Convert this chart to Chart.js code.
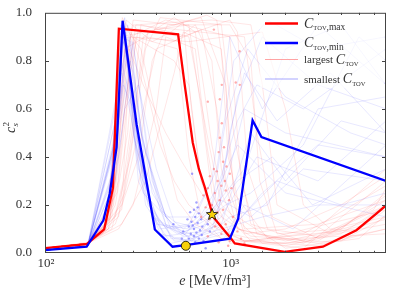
<!DOCTYPE html>
<html>
<head>
<meta charset="utf-8">
<script src="https://cdn.jsdelivr.net/npm/chart.js@4.4.1/dist/chart.umd.min.js"></script>
<style>
  html, body { margin: 0; padding: 0; background: #fff; }
</style>
</head>
<body>
<canvas id="cs2Chart" width="393" height="294"></canvas>
<script>
// sound speed squared vs energy density, [e in MeV/fm^3, c_s^2]
const maxCurve = [[100,.02],[168,.037],[209,.098],[233,.27],[251,.934],[525,.91],[570,.70],[630,.46],[680,.35],[732,.274],[813,.15],[1000,.067],[1064,.04],[1982,.005],[3190,.026],[4840,.095],[6210,.164],[7000,.198]];
const minCurve = [[100,.012],[168,.026],[207,.136],[224,.247],[244,.44],[263,.967],[282,.797],[313,.536],[393,.098],[490,.026],[575,.033],[1000,.06],[1110,.143],[1328,.552],[1483,.483],[7000,.30]];

// individual EOS samples (faint lines)
const largestCurves = [
  [[100,.02],[170,.04],[215,.12],[240,.5],[255,.9],[400,.93],[600,.95],[700,.6],[800,.25],[1000,.08],[2000,.03],[4000,.08],[7000,.2]],
  [[100,.02],[170,.04],[220,.1],[250,.4],[270,.85],[350,.9],[500,.88],[650,.95],[800,.8],[900,.35],[1100,.1],[2000,.05],[4000,.1],[7000,.25]],
  [[100,.02],[170,.045],[230,.1],[265,.3],[290,.9],[450,.97],[800,.92],[1000,.9],[1150,.3],[1400,.08],[3000,.04],[7000,.1]],
  [[100,.02],[170,.04],[250,.15],[300,.6],[330,.95],[600,.9],[750,.5],[900,.2],[1500,.04],[4000,.05],[7000,.15]],
  [[100,.02],[170,.04],[260,.2],[320,.7],[360,.92],[700,.98],[950,.7],[1050,.25],[1600,.06],[7000,.18]],
  [[100,.02],[170,.04],[200,.08],[240,.2],[280,.5],[310,.9],[520,.85],[600,.4],[700,.15],[900,.06],[2500,.02],[7000,.3]],
  [[100,.02],[170,.04],[215,.1],[240,.3],[265,.95],[330,.85],[420,.5],[520,.22],[650,.12],[900,.06],[2000,.04],[7000,.12]],
  [[100,.02],[170,.04],[230,.2],[260,.7],[300,.95],[1200,.9],[1400,.5],[1700,.15],[3000,.06],[7000,.2]],
  [[100,.02],[170,.04],[240,.15],[290,.4],[350,.85],[420,.98],[900,.95],[1050,.5],[1300,.12],[2500,.05],[7000,.35]],
  [[100,.02],[170,.04],[235,.2],[280,.7],[300,.9],[500,.8],[600,.7],[700,.3],[850,.1],[1200,.05],[5000,.1],[7000,.18]],
  [[100,.02],[170,.04],[250,.1],[300,.2],[400,.6],[450,.9],[650,.85],[750,.45],[850,.2],[1300,.05],[7000,.08]],
  [[100,.02],[170,.04],[225,.15],[255,.6],[275,.97],[380,.88],[480,.92],[560,.96],[620,.6],[700,.3],[1000,.04],[2500,.08],[7000,.28]],
  [[100,.02],[170,.04],[245,.25],[270,.6],[310,.95],[800,.97],[1300,.95],[1500,.7],[1800,.2],[3500,.08],[7000,.14]],
  [[100,.02],[170,.04],[260,.12],[350,.3],[500,.75],[560,.92],[900,.85],[980,.4],[1200,.1],[3000,.12],[7000,.22]],
  [[100,.02],[170,.04],[205,.08],[250,.3],[290,.75],[320,.93],[550,.9],[1000,.97],[1100,.92],[1250,.35],[1600,.1],[3000,.07],[5000,.12],[7000,.2]],
  [[100,.02],[170,.04],[220,.1],[270,.25],[330,.55],[400,.85],[700,.93],[850,.6],[950,.3],[1200,.08],[2000,.1],[4000,.2],[7000,.32]],
  [[100,.02],[170,.04],[210,.1],[245,.5],[262,.98],[300,.9],[350,.7],[420,.45],[500,.3],[600,.2],[800,.12],[1200,.05],[3000,.03],[7000,.1]],
  [[100,.02],[170,.04],[230,.15],[275,.8],[300,.97],[500,.95],[750,.99],[850,.97],[950,.7],[1000,.4],[1100,.15],[2000,.02],[5000,.06],[7000,.16]],
  [[100,.02],[170,.04],[240,.12],[320,.4],[380,.8],[460,.95],[1000,.95],[1300,.8],[1450,.3],[1800,.08],[4000,.1],[7000,.24]],
  [[100,.02],[170,.04],[215,.12],[250,.7],[280,.9],[600,.88],[1500,.92],[2000,.6],[2500,.2],[3500,.1],[7000,.15]],
  [[100,.02],[170,.04],[225,.14],[255,.5],[285,.85],[340,.7],[450,.5],[550,.38],[700,.25],[900,.15],[1300,.07],[3000,.05],[7000,.22]],
  [[100,.02],[170,.04],[260,.18],[300,.5],[340,.9],[500,.98],[650,.92],[720,.7],[800,.45],[900,.25],[1100,.1],[2500,.04],[6000,.18],[7000,.27]]
];
const smallestCurves = [
  [[100,.012],[170,.028],[210,.14],[240,.45],[265,.95],[285,.7],[330,.3],[420,.08],[600,.05],[800,.1],[1000,.35],[1200,.6],[2000,.5],[7000,.4]],
  [[100,.012],[170,.028],[230,.3],[255,.85],[275,.9],[300,.6],[360,.2],[500,.06],[700,.08],[900,.15],[1400,.4],[3000,.3],[7000,.55]],
  [[100,.012],[170,.028],[245,.5],[280,.95],[310,.8],[380,.3],[480,.1],[650,.12],[850,.2],[1100,.65],[1500,.9],[3000,.7],[7000,.6]],
  [[100,.012],[170,.028],[250,.4],[290,.8],[330,.5],[450,.12],[700,.06],[1000,.1],[1800,.3],[4000,.2],[7000,.25]],
  [[100,.012],[170,.028],[220,.2],[260,.75],[295,.55],[340,.25],[550,.08],[750,.14],[950,.2],[1300,.25],[2500,.45],[5000,.9],[7000,.8]],
  [[100,.012],[170,.028],[240,.6],[270,.98],[300,.5],[400,.12],[600,.1],[800,.18],[1200,.35],[2000,.85],[4000,.95],[7000,.7]],
  [[100,.012],[170,.028],[235,.35],[265,.7],[320,.55],[420,.18],[560,.1],[700,.16],[900,.3],[1100,.45],[2000,.25],[7000,.15]],
  [[100,.012],[170,.028],[255,.55],[300,.88],[360,.4],[450,.15],[620,.05],[850,.12],[1000,.5],[1200,.75],[1800,.55],[3500,.75],[7000,.5]],
  [[100,.012],[170,.028],[240,.3],[270,.6],[320,.7],[400,.35],[500,.13],[700,.1],[900,.22],[1300,.15],[2500,.35],[7000,.3]],
  [[100,.012],[170,.028],[230,.4],[260,.9],[290,.88],[350,.35],[480,.06],[650,.05],[950,.08],[1200,.2],[2200,.1],[7000,.45]],
  [[100,.012],[170,.028],[250,.7],[275,.85],[320,.3],[420,.1],[600,.12],[800,.3],[1000,.9],[1500,.6],[3000,.95],[7000,.7]],
  [[100,.012],[170,.028],[225,.25],[262,.92],[285,.75],[340,.3],[440,.07],[700,.09],[1100,.3],[1700,.4],[2800,.2],[7000,.35]],
  [[100,.012],[170,.028],[248,.6],[268,.94],[310,.45],[390,.15],[560,.07],[800,.2],[950,.55],[1250,.85],[2000,.65],[4500,.5],[7000,.45]],
  [[100,.012],[170,.028],[240,.55],[258,.95],[280,.8],[310,.5],[370,.2],[500,.05],[900,.05],[1500,.25],[3000,.45],[7000,.4]],
  [[100,.012],[170,.028],[232,.4],[252,.8],[272,.92],[305,.55],[380,.15],[520,.08],[750,.12],[1100,.55],[1400,.7],[2500,.6],[7000,.85]],
  [[100,.012],[170,.028],[250,.55],[285,.9],[320,.6],[380,.25],[500,.1],[700,.04],[1000,.15],[1600,.2],[3000,.6],[7000,.65]],
  [[100,.012],[170,.028],[228,.3],[258,.8],[278,.7],[320,.35],[420,.12],[600,.07],[900,.12],[1300,.5],[2000,.3],[4000,.55],[7000,.5]],
  [[100,.012],[170,.028],[245,.5],[275,.85],[300,.75],[340,.45],[450,.15],[650,.15],[850,.35],[1050,.8],[1600,.97],[3000,.85],[7000,.9]],
  [[100,.012],[170,.028],[238,.45],[265,.88],[295,.65],[350,.2],[480,.04],[620,.06],[900,.1],[1500,.15],[3000,.2],[7000,.2]]
];

// end points of the sampled EOS
const largestDots = [[820,.93],[1130,.84],[1077,.71],[1132,.70],[905,.70],[883,.64],[760,.63],[905,.54],[883,.48],[870,.42],[920,.38],[960,.36],[820,.35],[780,.32],[1000,.33],[860,.30],[900,.28],[760,.27],[950,.26],[830,.25],[720,.24],[880,.22],[990,.22],[800,.20],[740,.19],[920,.18],[860,.17],[700,.15],[780,.14],[1040,.15],[950,.12],[830,.11],[1100,.09],[900,.08],[760,.07],[1000,.05],[1200,.04],[1150,.06],[980,.03],[870,.045],[1050,.1],[940,.3],[1020,.27],[850,.34],[930,.44]];
const smallestDots = [[625,.33],[660,.21],[495,.12],[640,.18],[610,.17],[680,.165],[650,.15],[700,.14],[620,.13],[670,.125],[600,.11],[640,.10],[690,.095],[660,.085],[615,.08],[705,.075],[640,.07],[680,.06],[600,.06],[720,.05],[650,.045],[740,.02],[590,.14],[710,.11],[560,.09],[630,.115],[670,.19],[760,.12],[780,.09],[550,.06]];

const circlePoint = [[578,.03]];
const starPoint = [[802,.16]];

const xTickLabels = { 100: '10\u00b2', 1000: '10\u00b3' };
const SERIF = '"Liberation Serif", "DejaVu Serif", serif';
const TEXT = '#333';

const toXY = arr => arr.map(p => ({ x: p[0], y: p[1] }));

const datasets = [];
largestCurves.forEach(c => datasets.push({
  data: toXY(c), borderColor: 'rgba(255,50,50,0.12)', borderWidth: 1, pointRadius: 0, order: 6
}));
smallestCurves.forEach(c => datasets.push({
  data: toXY(c), borderColor: 'rgba(50,50,255,0.11)', borderWidth: 1, pointRadius: 0, order: 5
}));
datasets.push({
  data: toXY(largestDots), showLine: false, pointRadius: 1.2, pointBorderWidth: 0,
  pointBackgroundColor: 'rgba(255,70,70,0.45)', order: 4
});
datasets.push({
  data: toXY(smallestDots), showLine: false, pointRadius: 1.2, pointBorderWidth: 0,
  pointBackgroundColor: 'rgba(50,50,255,0.45)', order: 4
});
datasets.push({ data: toXY(maxCurve), borderColor: '#ff0000', borderWidth: 2.3, pointRadius: 0, order: 3 });
datasets.push({ data: toXY(minCurve), borderColor: '#0000ff', borderWidth: 2.3, pointRadius: 0, order: 2 });
datasets.push({
  data: toXY(circlePoint), showLine: false, pointRadius: 4.5, pointStyle: 'circle',
  pointBackgroundColor: '#f7d00a', pointBorderColor: '#000', pointBorderWidth: 0.8, order: 1
});

// star marker + frame, ticks, titles and legend
const decorations = {
  id: 'decorations',
  afterDatasetsDraw(chart) {
    const ctx = chart.ctx;
    const xs = chart.scales.x, ys = chart.scales.y;
    const cx = xs.getPixelForValue(starPoint[0][0]), cy = ys.getPixelForValue(starPoint[0][1]);
    const R = 6, r = 2.6;
    ctx.save();
    ctx.beginPath();
    for (let i = 0; i < 10; i++) {
      const a = -Math.PI / 2 + i * Math.PI / 5;
      const rr = i % 2 === 0 ? R : r;
      const px = cx + rr * Math.cos(a), py = cy + rr * Math.sin(a);
      if (i === 0) ctx.moveTo(px, py); else ctx.lineTo(px, py);
    }
    ctx.closePath();
    ctx.fillStyle = '#f7d00a';
    ctx.fill();
    ctx.lineWidth = 0.8;
    ctx.strokeStyle = '#000';
    ctx.stroke();
    ctx.restore();
  },
  afterDraw(chart) {
    const ctx = chart.ctx;
    const a = chart.chartArea;
    const xs = chart.scales.x, ys = chart.scales.y;
    ctx.save();

    // legend box
    ctx.fillStyle = 'rgba(255,255,255,0.65)';
    ctx.fillRect(260, 14, 124, 74);

    // frame
    ctx.strokeStyle = '#444';
    ctx.lineWidth = 1;
    ctx.strokeRect(a.left + 0.5, a.top + 0.5, a.right - a.left - 1, a.bottom - a.top - 1);

    // inward ticks
    ctx.beginPath();
    xs.ticks.forEach(t => {
      const v = t.value;
      if (v <= xs.min || v >= xs.max) return;
      const major = Math.abs(Math.log10(v) - Math.round(Math.log10(v))) < 1e-6;
      const len = major ? 4 : 2.2;
      const px = Math.round(xs.getPixelForValue(v)) + 0.5;
      ctx.moveTo(px, a.bottom); ctx.lineTo(px, a.bottom - len);
      ctx.moveTo(px, a.top); ctx.lineTo(px, a.top + len);
    });
    ys.ticks.forEach(t => {
      const v = t.value;
      if (v <= ys.min || v >= ys.max) return;
      const py = Math.round(ys.getPixelForValue(v)) + 0.5;
      ctx.moveTo(a.left, py); ctx.lineTo(a.left + 4, py);
      ctx.moveTo(a.right, py); ctx.lineTo(a.right - 4, py);
    });
    ctx.stroke();

    ctx.fillStyle = TEXT;
    ctx.textBaseline = 'alphabetic';

    // x tick labels
    ctx.font = '13px ' + SERIF;
    ctx.textAlign = 'center';
    Object.keys(xTickLabels).forEach(k => {
      ctx.fillText(xTickLabels[k], xs.getPixelForValue(Number(k)) + 1, a.bottom + 14);
    });
    ctx.textAlign = 'left';

    // x title
    const t1 = 'e ', t2 = '[MeV/fm\u00b3]';
    ctx.font = 'italic 14px ' + SERIF;
    const w1 = ctx.measureText(t1).width;
    ctx.font = '14px ' + SERIF;
    const w2 = ctx.measureText(t2).width;
    const x0 = 215 - (w1 + w2) / 2;
    ctx.font = 'italic 14px ' + SERIF;
    ctx.fillText(t1, x0, 285);
    ctx.font = '14px ' + SERIF;
    ctx.fillText(t2, x0 + w1, 285);

    // y title c_s^2
    ctx.save();
    ctx.translate(15, 127);
    ctx.rotate(-Math.PI / 2);
    ctx.font = 'italic 14px ' + SERIF;
    ctx.fillText('c', -6, 0);
    ctx.font = 'italic 9px ' + SERIF;
    ctx.fillText('s', 0.5, 3);
    ctx.font = '9px ' + SERIF;
    ctx.fillText('2', 0.5, -6);
    ctx.restore();

    // legend
    const rows = [
      { y: 23.5, color: '#ff0000', w: 2.3, pre: '', sub: ',max' },
      { y: 43, color: '#0000ff', w: 2.3, pre: '', sub: ',min' },
      { y: 59.5, color: 'rgba(255,90,90,0.55)', w: 1, pre: 'largest ', sub: '' },
      { y: 79, color: 'rgba(80,80,255,0.5)', w: 1, pre: 'smallest ', sub: '' }
    ];
    rows.forEach(r => {
      ctx.strokeStyle = r.color;
      ctx.lineWidth = r.w;
      ctx.beginPath();
      ctx.moveTo(265, r.y); ctx.lineTo(298, r.y);
      ctx.stroke();
      let x = 304;
      const base = r.y + 3.5;
      ctx.fillStyle = TEXT;
      if (r.pre) {
        ctx.font = '11px ' + SERIF;
        ctx.fillText(r.pre, x, base);
        x += ctx.measureText(r.pre).width;
      }
      ctx.font = 'italic 14px ' + SERIF;
      ctx.fillText('C', x, base + 0.5);
      x += ctx.measureText('C').width;
      ctx.font = '6.5px ' + SERIF;
      ctx.fillText('TOV', x, base + 3);
      x += ctx.measureText('TOV').width;
      if (r.sub) {
        ctx.font = '9.5px ' + SERIF;
        ctx.fillText(r.sub, x, base + 3);
      }
    });
    ctx.restore();
  }
};

new Chart(document.getElementById('cs2Chart'), {
  type: 'line',
  data: { datasets },
  options: {
    responsive: false,
    animation: false,
    layout: { padding: { left: 0, top: 11, right: 7, bottom: 0 } },
    elements: { line: { tension: 0, borderCapStyle: 'butt', borderJoinStyle: 'miter' } },
    plugins: { legend: { display: false }, tooltip: { enabled: false } },
    scales: {
      x: {
        type: 'logarithmic',
        min: 100,
        max: 7000,
        grid: { display: false },
        border: { display: false },
        ticks: {
          autoSkip: false,
          maxRotation: 0,
          color: 'rgba(0,0,0,0)',
          font: { family: SERIF, size: 13 },
          callback: v => xTickLabels[v] || ''
        },
        afterFit: s => { s.height = 41; }
      },
      y: {
        min: 0,
        max: 1,
        grid: { display: false },
        border: { display: false },
        ticks: {
          stepSize: 0.2,
          padding: 5,
          color: TEXT,
          font: { family: SERIF, size: 13 },
          callback: v => v.toFixed(1)
        },
        afterFit: s => { s.width = 45; }
      }
    }
  },
  plugins: [decorations]
});
</script>
</body>
</html>
